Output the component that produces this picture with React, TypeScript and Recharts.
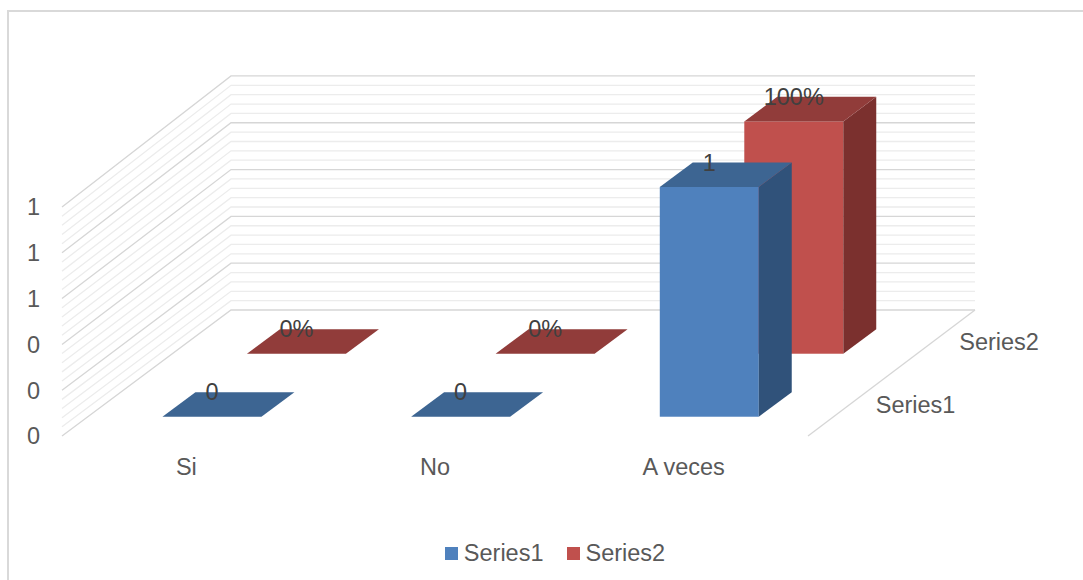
import React from 'react';
import { BarChart, Bar, XAxis, YAxis, CartesianGrid, Legend, LabelList } from 'recharts';

const categories = ['Si', 'No', 'A veces'];
const series1 = [0, 0, 1];
const series2 = [0, 0, 1];
const seriesNames = ['Series1', 'Series2'];
const yTicks = [0, 0.2, 0.4, 0.6, 0.8, 1];

const data = categories.map((name, i) => ({ name, s1: series1[i], s2: series2[i] }));

// chart box and front plane of the 3D plot
const W = 1083;
const H = 580;
const PLOT_TOP = 207;
const PLOT_LEFT = 62;
const PLOT_RIGHT = 808;
const PLOT_BOTTOM = 436;
const Y_AXIS_W = 60;
const X_AXIS_H = 30;

// oblique depth of the floor, bar depth and where each series row starts
const DEPTH_X = 169;
const DEPTH_Y = -126;
const BAR_DEPTH = 0.195;
const ROW_FRONT = [0.153, 0.653];
const ROW_MID = [0.25, 0.75];
const PERSPECTIVE = 0.022;

const FONT = '"Liberation Sans", Arial, sans-serif';
const FONT_SIZE = 23.5;
const TEXT = '#595959';

const COLORS = [
  { front: '#4f81bd', top: '#3d6592', side: '#30527a' },
  { front: '#c0504d', top: '#913c3a', side: '#7b302e' },
];

// minor gridlines every 0.04, major every 0.2
const gridValues = Array.from({ length: 26 }, (_, i) => i * 0.04);
const GRID_STEP = (PLOT_BOTTOM - PLOT_TOP) / 25;

// each gridline runs along the left wall and then across the back wall
const wallLine = (props: any) => {
  const { x1, x2, y1 } = props;
  const rise = PLOT_BOTTOM - y1;
  const backY = PLOT_BOTTOM + DEPTH_Y - rise * (1 + PERSPECTIVE);
  const major = Math.round(rise / GRID_STEP) % 5 === 0;
  const isFloor = Math.abs(rise) < 0.5;
  return (
    <g key={props.key}>
      <polyline
        points={`${x1},${y1} ${x1 + DEPTH_X},${backY} ${x2 + DEPTH_X - 2},${backY}`}
        fill="none"
        stroke={major ? '#d6d6d6' : '#ececec'}
        strokeWidth={1.3}
      />
      {isFloor && (
        <line x1={x2} y1={y1} x2={x2 + DEPTH_X - 2} y2={backY} stroke="#d6d6d6" strokeWidth={1.3} />
      )}
      {isFloor &&
        seriesNames.map((name, i) => (
          <text
            key={name}
            x={x2 + ROW_MID[i] * (DEPTH_X - 2) + 26}
            y={y1 + ROW_MID[i] * DEPTH_Y}
            dy="0.35em"
            fill={TEXT}
            fontSize={FONT_SIZE}
            fontFamily={FONT}
          >
            {name}
          </text>
        ))}
    </g>
  );
};

const prismShape = (row: number) => (props: any) => {
  const { x, y, width, height } = props;
  const c = COLORS[row];
  const f = ROW_FRONT[row];
  const left = x + f * DEPTH_X;
  const right = left + width;
  const base = y + height + f * DEPTH_Y;
  const h = height * (1 + PERSPECTIVE * f);
  const top = base - h;
  const dx = BAR_DEPTH * DEPTH_X;
  const dy = BAR_DEPTH * DEPTH_Y;
  return (
    <g>
      {h > 0 && <rect x={left} y={top} width={width} height={h} fill={c.front} />}
      {h > 0 && (
        <polygon
          points={`${right},${top} ${right + dx},${top + dy} ${right + dx},${base + dy} ${right},${base}`}
          fill={c.side}
        />
      )}
      <polygon
        points={`${left},${top} ${right},${top} ${right + dx},${top + dy} ${left + dx},${top + dy}`}
        fill={c.top}
      />
    </g>
  );
};

const barLabel = (row: number, format: (v: number) => string) => (props: any) => {
  const vb = props.viewBox ?? props;
  const { x, y, width, height } = vb;
  const f = ROW_FRONT[row];
  const base = y + height + f * DEPTH_Y;
  const top = base - height * (1 + PERSPECTIVE * f);
  const raw = Array.isArray(props.value) ? props.value[1] : props.value;
  return (
    <text
      x={x + f * DEPTH_X + width / 2}
      y={top + BAR_DEPTH * DEPTH_Y}
      dy="0.35em"
      textAnchor="middle"
      fill="#404040"
      fontSize={FONT_SIZE}
      fontFamily={FONT}
    >
      {format(Number(raw))}
    </text>
  );
};

const renderLegend = (props: any) => {
  const items = [...(props.payload ?? [])].sort((a: any, b: any) =>
    String(a.value).localeCompare(String(b.value))
  );
  return (
    <div
      style={{
        display: 'flex',
        justifyContent: 'center',
        alignItems: 'center',
        gap: 23,
        height: 30,
        paddingLeft: 27,
        boxSizing: 'border-box',
        fontFamily: FONT,
        fontSize: FONT_SIZE,
        color: TEXT,
      }}
    >
      {items.map((it: any) => (
        <div key={it.value} style={{ display: 'flex', alignItems: 'center' }}>
          <span style={{ width: 13, height: 13, background: it.color, marginRight: 6 }} />
          {it.value}
        </div>
      ))}
    </div>
  );
};

export default function App() {
  return (
    <div style={{ position: 'absolute', left: 0, top: 0, width: W, height: H, overflow: 'hidden', background: '#fff' }}>
      <div
        style={{
          position: 'absolute',
          left: 7,
          top: 10,
          width: W - 7,
          height: H - 10,
          boxSizing: 'border-box',
          borderTop: '2px solid #d9d9d9',
          borderLeft: '2px solid #d9d9d9',
        }}
      />
      <BarChart
        width={W}
        height={H}
        data={data}
        barCategoryGap="30%"
        margin={{
          top: PLOT_TOP,
          right: W - PLOT_RIGHT,
          bottom: H - PLOT_BOTTOM - X_AXIS_H,
          left: PLOT_LEFT - Y_AXIS_W,
        }}
      >
        <CartesianGrid xAxisId="s1" vertical={false} horizontal={wallLine} horizontalValues={gridValues} />
        <XAxis
          xAxisId="s1"
          dataKey="name"
          height={X_AXIS_H}
          axisLine={false}
          tickLine={false}
          tickSize={0}
          tickMargin={22}
          interval={0}
          tick={{ fill: TEXT, fontSize: FONT_SIZE, fontFamily: FONT }}
        />
        <XAxis xAxisId="s2" dataKey="name" hide />
        <YAxis
          width={Y_AXIS_W}
          domain={[0, 1]}
          ticks={yTicks}
          interval={0}
          axisLine={false}
          tickLine={false}
          tickSize={0}
          tickMargin={22}
          tickFormatter={(v: number) => String(Math.round(v))}
          tick={{ fill: TEXT, fontSize: FONT_SIZE, fontFamily: FONT }}
        />
        <Legend
          verticalAlign="middle"
          align="center"
          content={renderLegend}
          wrapperStyle={{ left: 0, top: 538, width: W, height: 30 }}
        />
        {/* back row first so the front row covers it */}
        <Bar
          xAxisId="s2"
          dataKey="s2"
          name={seriesNames[1]}
          fill={COLORS[1].front}
          shape={prismShape(1)}
          isAnimationActive={false}
        >
          <LabelList dataKey="s2" content={barLabel(1, (v) => `${Math.round(v * 100)}%`)} />
        </Bar>
        <Bar
          xAxisId="s1"
          dataKey="s1"
          name={seriesNames[0]}
          fill={COLORS[0].front}
          shape={prismShape(0)}
          isAnimationActive={false}
        >
          <LabelList dataKey="s1" content={barLabel(0, (v) => String(v))} />
        </Bar>
      </BarChart>
    </div>
  );
}
